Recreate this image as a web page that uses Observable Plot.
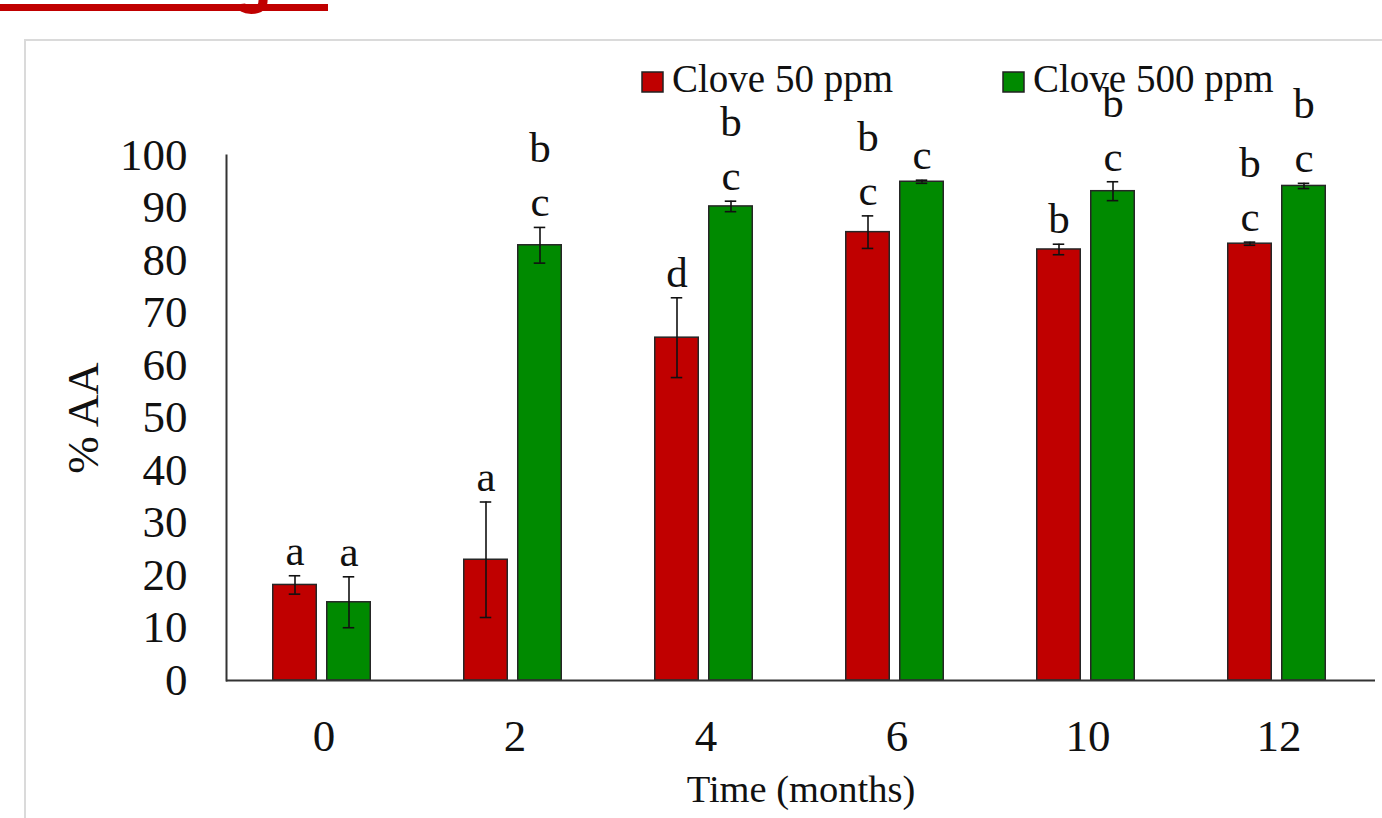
<!DOCTYPE html>
<html>
<head>
<meta charset="utf-8">
<script src="https://cdn.jsdelivr.net/npm/d3@7"></script>
<script src="https://cdn.jsdelivr.net/npm/@observablehq/plot@0.6"></script>
<style>
  html, body { margin: 0; padding: 0; background: #fff; }
  #wrap { position: relative; width: 1382px; height: 818px; overflow: hidden; font-family: "Liberation Serif", "Times New Roman", serif; }
  #frame { position: absolute; left: 24px; top: 39px; right: -10px; bottom: -10px; border-top: 2px solid #dadada; border-left: 2px solid #dadada; }
  #redbar { position: absolute; left: 0; top: 4px; width: 328px; height: 7px; background: #c00000; }
  .abs { position: absolute; left: 0; top: 0; }
</style>
</head>
<body>
<div id="wrap">
  <div id="frame"></div>
  <div id="redbar"></div>
  <svg class="abs" width="1382" height="40" style="overflow:hidden">
    <text x="232" y="0" fill="#c00000" font-family="Liberation Sans, Arial, sans-serif" font-weight="bold" font-size="66">g</text>
  </svg>
  <div id="chart" class="abs"></div>
  <svg class="abs" width="1382" height="120" style="overflow:visible">
    <g font-family="Liberation Serif, Times New Roman, serif" font-size="39" fill="#111">
      <rect x="642" y="72" width="21" height="20" fill="#c00000" stroke="#222" stroke-width="1.5"></rect>
      <text x="672" y="92">Clove 50 ppm</text>
      <rect x="1003" y="72" width="21" height="20" fill="#008a00" stroke="#222" stroke-width="1.5"></rect>
      <text x="1033" y="92">Clove 500 ppm</text>
    </g>
  </svg>
</div>
<script>
// ---- data ----
const times = ["0", "2", "4", "6", "10", "12"];
const clove50 = [18.2, 23.0, 65.3, 85.4, 82.1, 83.2];
const clove50Err = [1.75, 11.0, 7.6, 3.1, 1.0, 0.3];
const clove500 = [14.9, 82.9, 90.3, 95.0, 93.2, 94.2];
const clove500Err = [4.85, 3.4, 1.0, 0.3, 1.8, 0.5];
const clove50Letters = ["a", "a", "d", "c", "b", "c"];
const clove50Letters2 = ["", "", "", "b", "", "b"];
const clove500Letters = ["a", "c", "c", "c", "c", "c"];
const clove500Letters2 = ["", "b", "b", "", "b", "b"];
const yTicks = [0, 10, 20, 30, 40, 50, 60, 70, 80, 90, 100];

// ---- layout ----
const W = 1382, H = 818;
const mL = 226, mR = 7, mT = 155, mB = 138;
const band = (W - mL - mR) / times.length;
const barW = 44;
const off50 = -29, off500 = 25; // bar centre offsets within each time band
const capW = 12;
const serif = "Liberation Serif, Times New Roman, serif";

const rows50 = times.map((t, i) => ({time: t, value: clove50[i], err: clove50Err[i], l1: clove50Letters[i], l2: clove50Letters2[i]}));
const rows500 = times.map((t, i) => ({time: t, value: clove500[i], err: clove500Err[i], l1: clove500Letters[i], l2: clove500Letters2[i]}));

function series(rows, off, fill) {
  const insL = band / 2 + off - barW / 2;
  const insR = band / 2 - off - barW / 2;
  const capL = band / 2 + off - capW / 2;
  const capR = band / 2 - off - capW / 2;
  return [
    Plot.barY(rows, {x: "time", y: "value", fill, stroke: "#262626", strokeWidth: 1.5, insetLeft: insL, insetRight: insR}),
    Plot.ruleX(rows, {x: "time", y1: d => d.value - d.err, y2: d => d.value + d.err, dx: off, stroke: "#111", strokeWidth: 1.6}),
    Plot.tickY(rows, {x: "time", y: d => d.value + d.err, stroke: "#111", strokeWidth: 1.6, insetLeft: capL, insetRight: capR}),
    Plot.tickY(rows, {x: "time", y: d => d.value - d.err, stroke: "#111", strokeWidth: 1.6, insetLeft: capL, insetRight: capR}),
    Plot.text(rows, {x: "time", y: d => d.value + d.err, text: "l1", dx: off, dy: -11, lineAnchor: "bottom", fontSize: 43, fontFamily: serif, fill: "#111"}),
    Plot.text(rows, {x: "time", y: d => d.value + d.err, text: "l2", dx: off, dy: -65, lineAnchor: "bottom", fontSize: 43, fontFamily: serif, fill: "#111"})
  ];
}

const chart = Plot.plot({
  width: W,
  height: H,
  marginLeft: mL,
  marginRight: mR,
  marginTop: mT,
  marginBottom: mB,
  style: {background: "transparent", fontFamily: serif, color: "#111", overflow: "visible"},
  x: {domain: times, padding: 0, label: null},
  y: {domain: [0, 100], label: null},
  marks: [
    ...series(rows50, off50, "#c00000"),
    ...series(rows500, off500, "#008a00"),
    Plot.ruleY([0], {stroke: "#333", strokeWidth: 2}),
    Plot.frame({anchor: "left", stroke: "#333", strokeWidth: 2}),
    Plot.axisY(yTicks, {tickSize: 0, tickPadding: 39, fontSize: 45, fontFamily: serif, label: null}),
    Plot.axisX({tickSize: 0, tickPadding: 39, fontSize: 45, fontFamily: serif, label: null}),
    Plot.text(["% AA"], {frameAnchor: "left", dx: -143, rotate: -90, fontSize: 45, fontFamily: serif, fill: "#111", textAnchor: "middle", lineAnchor: "middle"}),
    Plot.text(["Time (months)"], {frameAnchor: "bottom", dy: 121, lineAnchor: "bottom", fontSize: 38.5, fontFamily: serif, fill: "#111"})
  ]
});
document.getElementById("chart").appendChild(chart);
</script>
</body>
</html>
